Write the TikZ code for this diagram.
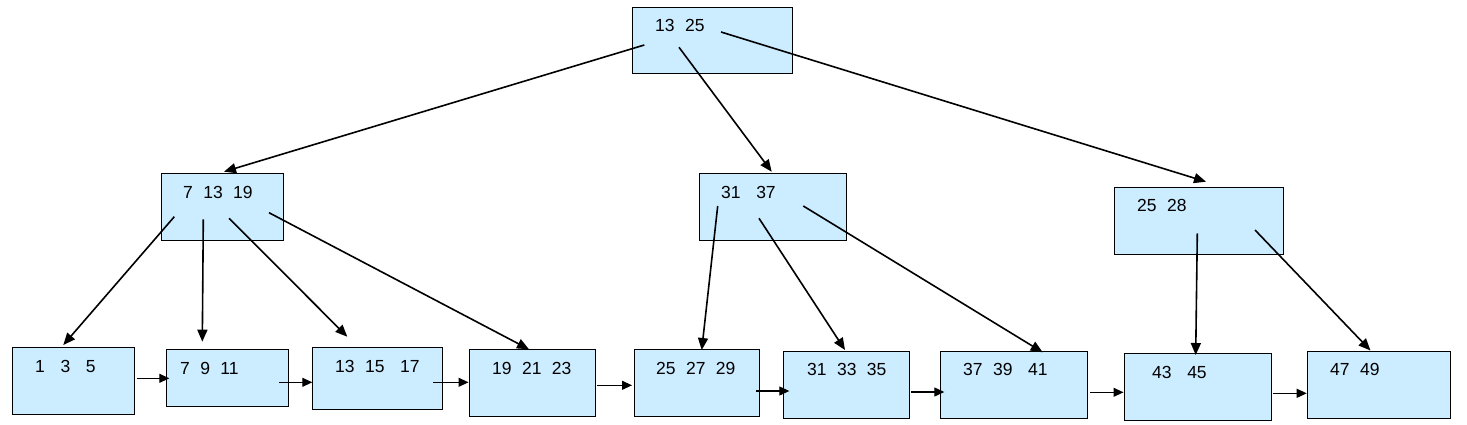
\documentclass[tikz,border=0pt]{standalone}
\usepackage{fontspec}
\setmainfont{Liberation Sans}
\usetikzlibrary{arrows.meta}
\definecolor{boxfill}{RGB}{204,236,255}
\tikzset{
  keybox/.style={draw=black, line width=1pt, fill=boxfill, inner sep=0pt, rectangle},
  keytxt/.style={inner sep=0pt, anchor=base west, font=\fontsize{17.5}{20}\selectfont},
  treearrow/.style={line width=1.6pt, -{Triangle[length=12pt,width=10pt]}},
  chainarrow/.style={line width=1.1pt, -{Triangle[length=10pt,width=9pt]}}
}
\newcommand{\mkbox}[5]{% name, x1, y1, x2, y2
  \path[keybox] (#2,#3) rectangle (#4,#5);
  \coordinate (#1) at ({(#2+#4)/2},{(#3+#5)/2});
}
\newcommand{\gp}{\hspace{5.2pt}}
\begin{document}
\begin{tikzpicture}[x=1pt,y=-1pt]
\useasboundingbox (0,0) rectangle (1467,424);
% boxes
\mkbox{root}{632.5}{7}{792.5}{73}
\mkbox{na}{161.7}{173.3}{283.7}{240.3}
\mkbox{nb}{699.5}{173.3}{846.5}{240.3}
\mkbox{nc}{1114.3}{187.3}{1283.3}{254}
\mkbox{l1}{12}{347.3}{134.7}{414.3}
\mkbox{l2}{166.3}{349.3}{288.3}{406.3}
\mkbox{l3}{312.3}{347.3}{442.7}{409.3}
\mkbox{l4}{469.3}{349.3}{595.3}{416.3}
\mkbox{l5}{634.3}{349.3}{759.3}{416.3}
\mkbox{l6}{783.3}{351.3}{909.3}{418.3}
\mkbox{l7}{940.3}{351.3}{1087.7}{418.3}
\mkbox{l8}{1124.3}{353}{1271.7}{420}
\mkbox{l9}{1307.3}{351.3}{1450.3}{418.3}
% labels
\node[keytxt] (troot) at (655,31) {13\gp\gp 25};
\node[keytxt] (tna) at (183,198) {7\gp\gp 13\gp\gp 19};
\node[keytxt] (tnb) at (721,198) {31\gp\gp\gp 37};
\node[keytxt] (tnc) at (1137,211.7) {25\gp\gp 28};
\node[keytxt] (tl1) at (35,372) {1\gp\gp\gp 3\gp\gp\gp 5};
\node[keytxt] (tl2) at (180,374) {7\gp\gp 9\gp\gp 11};
\node[keytxt] (tl3) at (335,372) {13\gp\gp 15\gp\gp\gp 17};
\node[keytxt] (tl4) at (492,374) {19\gp\gp 21\gp\gp 23};
\node[keytxt] (tl5) at (656,374) {25\gp\gp 27\gp\gp 29};
\node[keytxt] (tl6) at (807,375.7) {31\gp\gp 33\gp\gp 35};
\node[keytxt] (tl7) at (963,375.7) {37\gp\gp 39\gp\gp\gp 41};
\node[keytxt] (tl8) at (1152,378.3) {43\gp\gp\gp 45};
\node[keytxt] (tl9) at (1330,375) {47\gp\gp 49};
% pointer coordinates
\coordinate (r-p1) at (644.3,45);
\coordinate (r-p2) at (679,47.3);
\coordinate (r-p3) at (721,32);
\coordinate (na-in) at (224,171.7);
\coordinate (nb-in) at (771.7,171.7);
\coordinate (nc-in) at (1206,181.7);
\coordinate (na-p1) at (174.3,216.7);
\coordinate (na-p2) at (203.3,219.3);
\coordinate (na-p3) at (229,218.3);
\coordinate (na-p4) at (269,212.7);
\coordinate (nb-p1) at (717.7,206);
\coordinate (nb-p2) at (759,218.3);
\coordinate (nb-p3) at (803.3,206);
\coordinate (nc-p1) at (1197.3,233.3);
\coordinate (nc-p2) at (1255,230);
\coordinate (l1-in) at (63.3,345);
\coordinate (l2-in) at (202.3,341.7);
\coordinate (l3-in) at (347.3,336.7);
\coordinate (l4-in) at (529,349.3);
\coordinate (l5-in) at (701.7,350);
\coordinate (l6-in) at (845,350);
\coordinate (l7-in) at (1042.7,352.3);
\coordinate (l8-in) at (1195.7,355);
\coordinate (l9-in) at (1370.5,350.5);
% tree arrows
\draw[treearrow] (r-p1) -- (na-in);
\draw[treearrow] (r-p2) -- (nb-in);
\draw[treearrow] (r-p3) -- (nc-in);
\draw[treearrow] (na-p1) -- (l1-in);
\draw[treearrow] (na-p2) -- (l2-in);
\draw[treearrow] (na-p3) -- (l3-in);
\draw[treearrow] (na-p4) -- (l4-in);
\draw[treearrow] (nb-p1) -- (l5-in);
\draw[treearrow] (nb-p2) -- (l6-in);
\draw[treearrow] (nb-p3) -- (l7-in);
\draw[treearrow] (nc-p1) -- (l8-in);
\draw[treearrow] (nc-p2) -- (l9-in);
% leaf chain
\coordinate (c1a) at (136.7,378.3); \coordinate (c1b) at (169.3,378.3);
\coordinate (c2a) at (279.3,382.3); \coordinate (c2b) at (312.3,382.3);
\coordinate (c3a) at (433.3,382.3); \coordinate (c3b) at (468.5,382.3);
\coordinate (c4a) at (597.3,385.3); \coordinate (c4b) at (632,385.3);
\coordinate (c5a) at (756,391); \coordinate (c5b) at (789.3,391);
\coordinate (c6a) at (911,392); \coordinate (c6b) at (944.3,392);
\coordinate (c7a) at (1090,392.3); \coordinate (c7b) at (1123.5,392.3);
\coordinate (c8a) at (1272.7,393.3); \coordinate (c8b) at (1306.7,393.3);
\draw[chainarrow] (c1a) -- (c1b);
\draw[chainarrow] (c2a) -- (c2b);
\draw[chainarrow] (c3a) -- (c3b);
\draw[chainarrow] (c4a) -- (c4b);
\draw[chainarrow] (c5a) -- (c5b);
\draw[chainarrow] (c6a) -- (c6b);
\draw[chainarrow] (c7a) -- (c7b);
\draw[chainarrow] (c8a) -- (c8b);
\end{tikzpicture}
\end{document}
